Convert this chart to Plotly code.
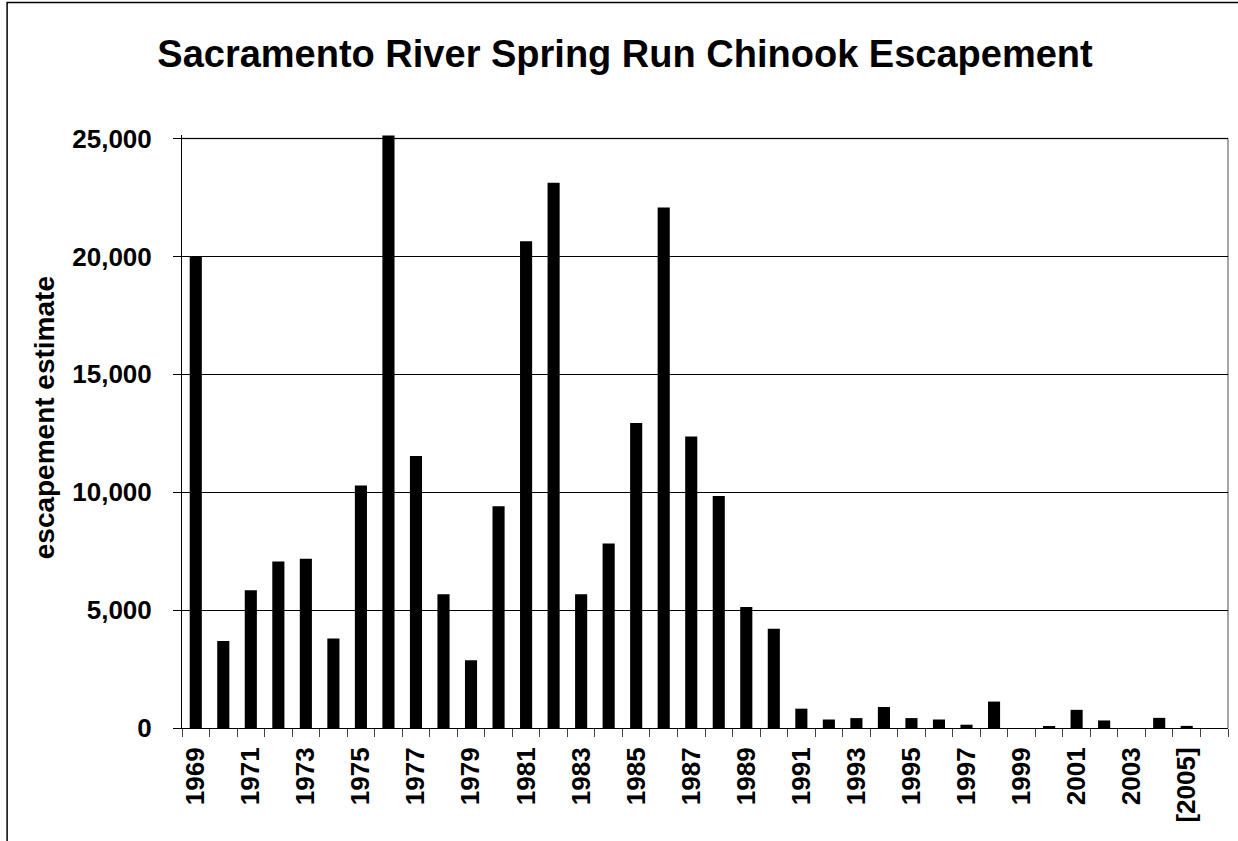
import plotly.graph_objects as go

# ---- data ----
years = list(range(1969, 2007))
escapement = [20000, 3690, 5840, 7060, 7180, 3800, 10280, 25125, 11540, 5670,
              2870, 9400, 20640, 23130, 5670, 7820, 12940, 22080, 12360, 9840,
              5130, 4210, 820, 360, 420, 890, 420, 360, 140, 1120,
              0, 75, 770, 320, 0, 430, 90, None]
label_years = years[0:37:2]
tick_labels = [str(y) for y in label_years[:-1]] + ["[2005]"]
y_ticks = [0, 5000, 10000, 15000, 20000, 25000]

title_text = "Sacramento River Spring Run Chinook Escapement"
y_title = "escapement estimate"

FONT = "Liberation Sans, Arial, sans-serif"

fig = go.Figure()
fig.add_trace(go.Bar(
    x=years, y=escapement, width=0.44,
    marker=dict(color="black", line=dict(width=0)),
    hoverinfo="x+y",
))

W, H = 1238, 841
L, R, T, B = 182.3, 10.3, 135.4, 112.7
pw, ph = W - L - R, H - T - B

def px_x(x):
    return (x - L) / pw

def px_y(y):
    return (H - B - y) / ph

fig.update_layout(
    width=W, height=H,
    margin=dict(l=L, r=R, t=T, b=B, pad=0),
    paper_bgcolor="white", plot_bgcolor="white",
    showlegend=False,
    font=dict(family=FONT, color="black"),
    title=dict(
        text=title_text,
        font=dict(family=FONT, size=38, weight="bold", color="black"),
        x=625 / W, xanchor="center", xref="container",
        y=1 - 54 / H, yanchor="middle", yref="container",
    ),
    xaxis=dict(
        range=[years[0] - 0.5, years[-1] + 0.5],
        tickmode="array", tickvals=label_years, ticktext=tick_labels,
        tickangle=-90, ticks="", ticklabelstandoff=8,
        tickfont=dict(family=FONT, size=26, weight="bold", color="black"),
        showline=True, linecolor="black", linewidth=1,
        showgrid=False, zeroline=False,
        minor=dict(tickmode="array",
                   tickvals=[y - 0.5 for y in years] + [years[-1] + 0.5],
                   ticks="outside", ticklen=8, tickwidth=1, tickcolor="#444",
                   showgrid=False),
    ),
    yaxis=dict(
        range=[0, 25150],
        tickmode="array", tickvals=y_ticks, tickformat=",d",
        ticks="outside", ticklen=8, tickwidth=1, tickcolor="black",
        ticklabelstandoff=16,
        tickfont=dict(family=FONT, size=26, weight="bold", color="black"),
        showline=True, linecolor="black", linewidth=1,
        showgrid=True, gridcolor="black", gridwidth=1,
        zeroline=False,
    ),
    annotations=[dict(
        text=y_title, textangle=-90,
        xref="paper", yref="paper",
        x=px_x(45), y=px_y(418), xanchor="center", yanchor="middle",
        showarrow=False,
        font=dict(family=FONT, size=28, weight="bold", color="black"),
    )],
    shapes=[
        # gray top border of plot area at 25,000 and right border
        dict(type="line", xref="paper", yref="y", x0=0, x1=1, y0=25000, y1=25000,
             line=dict(color="#888888", width=1.5), layer="between"),
        dict(type="line", xref="paper", yref="y", x0=1, x1=1, y0=0, y1=25000,
             line=dict(color="#888888", width=1.5), layer="between"),
        # outer chart border
        dict(type="rect", xref="paper", yref="paper",
             x0=px_x(7.5), x1=px_x(1260), y0=px_y(880), y1=px_y(3),
             line=dict(color="black", width=1.5), fillcolor="rgba(0,0,0,0)",
             layer="above"),
    ],
)

fig.write_html(
    "out.html",
    config={"displayModeBar": False},
    post_script="document.body.style.margin='0';document.body.style.overflow='hidden';",
)
